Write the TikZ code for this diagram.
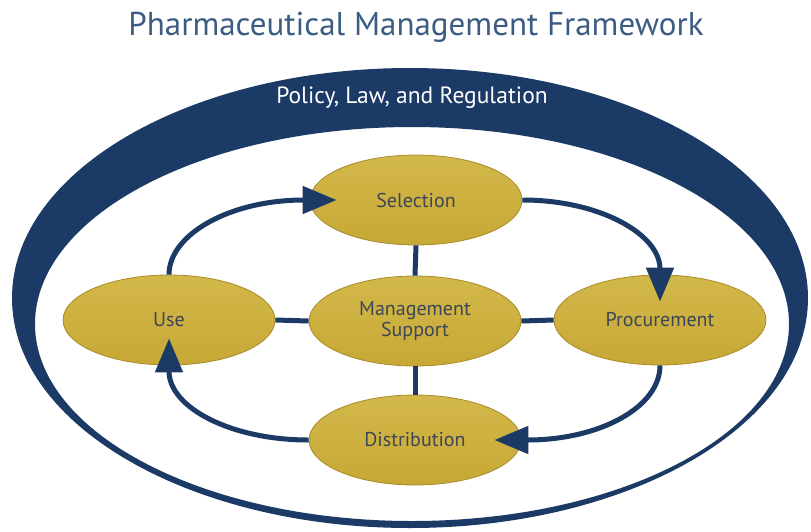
\documentclass[tikz,border=0pt]{standalone}
\usepackage{fontspec}
\setmainfont{PT Sans}
\usetikzlibrary{shapes.geometric,arrows.meta}

\definecolor{navy}{HTML}{1B3A66}
\definecolor{gold}{HTML}{C7A836}
\definecolor{goldtop}{HTML}{D2B84A}
\definecolor{goldedge}{HTML}{A98B28}
\definecolor{labeltext}{HTML}{3C4657}
\definecolor{titleblue}{HTML}{3C5C84}

\tikzset{
  phase/.style={ellipse, minimum width=212pt, minimum height=90pt, inner sep=0pt,
    top color=goldtop, bottom color=gold, draw=goldedge, line width=0.8pt,
    text=labeltext, font=\fontsize{20}{21}\selectfont, align=center},
  link/.style={navy, line width=5pt},
  flow/.style={navy, line width=5pt, -{Triangle[length=34pt,width=27pt]}, shorten >=-27pt},
}

\begin{document}
\begin{tikzpicture}[x=1pt,y=-1pt]
  \useasboundingbox (0,0) rectangle (811,531);

  % heading
  \node[text=titleblue, font=\fontsize{33}{36}\selectfont] (title) at (416,27)
    {Pharmaceutical Management Framework};

  % outer policy band: a navy crescent between two ellipses
  \fill[navy, even odd rule]
    (410,298) ellipse [x radius=398, y radius=230]
    (412,324) ellipse [x radius=377, y radius=197];
  \node[text=white, font=\fontsize{23.5}{26}\selectfont] (policy) at (412,98)
    {Policy, Law, and Regulation};

  % cycle of functions around the central support
  \node[phase] (sel)  at (416,200) {Selection};
  \node[phase] (ms)   at (415,321) {Management\\Support};
  \node[phase] (use)  at (169,320) {Use};
  \node[phase] (proc) at (660,320) {Procurement};
  \node[phase] (dist) at (415,440) {Distribution};

  % spokes to the centre
  \draw[link] (sel.south) -- (ms.north);
  \draw[link] (ms.south) -- (dist.north);
  \draw[link] (use.east) -- (ms.west);
  \draw[link] (ms.east) -- (proc.west);

  % the cycle
  \draw[flow] (use.north) .. controls +(0,-40) and +(-80,0) .. (sel.west);
  \draw[flow] (sel.east) .. controls +(78,0) and +(0,-40) .. (proc.north);
  \draw[flow] (proc.south) .. controls +(0,42) and +(78,0) .. (dist.east);
  \draw[flow] (dist.west) .. controls +(-78,0) and +(0,42) .. (use.south);
\end{tikzpicture}
\end{document}
